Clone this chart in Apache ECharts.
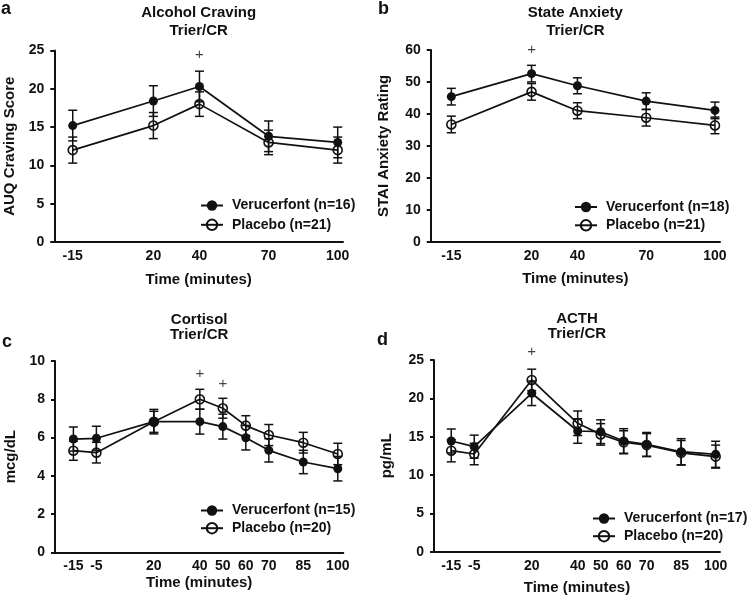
<!DOCTYPE html>
<html><head><meta charset="utf-8">
<script src="https://cdn.jsdelivr.net/npm/echarts@6/dist/echarts.min.js"></script>
<style>html,body{margin:0;padding:0;background:#fff}#c{width:748px;height:599px}</style>
</head><body><div id="c"></div>
<script>
// ---------------- data ----------------
const timesAB = [-15, 20, 40, 70, 100];
const timesCD = [-15, -5, 20, 40, 50, 60, 70, 85, 100];

const cravingVer    = [15.2, 18.4, 20.3, 13.8, 13.0];
const cravingVerSem = [2.0, 2.0, 2.0, 2.0, 2.0];
const cravingPla    = [12.0, 15.2, 18.0, 13.0, 12.0];
const cravingPlaSem = [1.7, 1.7, 1.6, 1.6, 1.7];
const cravingSig    = [[40, 24.4]];

const anxietyVer    = [45.4, 52.6, 48.8, 44.0, 41.1];
const anxietyVerSem = [2.6, 2.6, 2.5, 2.6, 2.6];
const anxietyPla    = [36.7, 46.9, 41.0, 38.8, 36.4];
const anxietyPlaSem = [2.6, 2.6, 2.5, 2.6, 2.6];
const anxietySig    = [[20, 60.2]];

const cortisolVer    = [5.92, 5.96, 6.83, 6.83, 6.57, 5.99, 5.33, 4.72, 4.37];
const cortisolVerSem = [0.63, 0.63, 0.64, 0.65, 0.65, 0.64, 0.61, 0.61, 0.64];
const cortisolPla    = [5.31, 5.21, 6.82, 8.0, 7.53, 6.62, 6.13, 5.73, 5.14];
const cortisolPlaSem = [0.5, 0.54, 0.55, 0.52, 0.52, 0.52, 0.55, 0.54, 0.56];
const cortisolSig    = [[40, 9.32], [50, 8.78]];

const acthVer    = [14.44, 13.7, 20.66, 15.74, 15.65, 14.44, 14.0, 13.04, 12.7];
const acthVerSem = [1.56, 1.5, 1.6, 1.6, 1.55, 1.6, 1.55, 1.7, 1.7];
const acthPla    = [13.17, 12.74, 22.4, 16.75, 15.3, 14.27, 13.9, 12.9, 12.4];
const acthPlaSem = [1.45, 1.4, 1.4, 1.6, 1.4, 1.5, 1.5, 1.6, 1.5];
const acthSig    = [[20, 26.1]];

// ---------------- styling / layout ----------------
const FONT = "'Liberation Sans', Arial, Helvetica, sans-serif";
const INK = '#111';

const panels = [
  { letter: 'a', title: 'Alcohol Craving\nTrier/CR', yName: 'AUQ Craving Score',
    times: timesAB, ver: cravingVer, verSem: cravingVerSem, pla: cravingPla, plaSem: cravingPlaSem, sig: cravingSig,
    verName: 'Verucerfont (n=16)', plaName: 'Placebo (n=21)',
    grid: { left: 54.3, top: 50.5, width: 288.7, height: 191.5 }, xMin: -23, xMax: 102.3, yMax: 25, yStep: 5,
    letterPos: [1, 0], titleTop: 3.5, titleLH: 18.5, yGap: 37, xGap: 30, legend: [200, 198.5, 5.3] },
  { letter: 'b', title: 'State Anxiety\nTrier/CR', yName: 'STAI Anxiety Rating',
    times: timesAB, ver: anxietyVer, verSem: anxietyVerSem, pla: anxietyPla, plaSem: anxietyPlaSem, sig: anxietySig,
    verName: 'Verucerfont (n=18)', plaName: 'Placebo (n=21)',
    grid: { left: 430.7, top: 50, width: 289.3, height: 191.7 }, xMin: -24, xMax: 102.2, yMax: 60, yStep: 10,
    letterPos: [378, 0], titleTop: 3.5, titleLH: 18.5, yGap: 39, xGap: 30, legend: [574, 200, 4.3] },
  { letter: 'c', title: 'Cortisol\nTrier/CR', yName: 'mcg/dL',
    times: timesCD, ver: cortisolVer, verSem: cortisolVerSem, pla: cortisolPla, plaSem: cortisolPlaSem, sig: cortisolSig,
    verName: 'Verucerfont (n=15)', plaName: 'Placebo (n=20)',
    grid: { left: 55, top: 361, width: 288.3, height: 191.3 }, xMin: -23, xMax: 102.4, yMax: 10, yStep: 2,
    letterPos: [2, 333], titleTop: 312.7, titleLH: 14.5, yGap: 37, xGap: 23, legend: [200, 503.5, 3.7] },
  { letter: 'd', title: 'ACTH\nTrier/CR', yName: 'pg/mL',
    times: timesCD, ver: acthVer, verSem: acthVerSem, pla: acthPla, plaSem: acthPlaSem, sig: acthSig,
    verName: 'Verucerfont (n=17)', plaName: 'Placebo (n=20)',
    grid: { left: 434, top: 360, width: 286, height: 191.7 }, xMin: -22.5, xMax: 101.9, yMax: 25, yStep: 5,
    letterPos: [377, 331], titleTop: 311.5, titleLH: 15, yGap: 39.5, xGap: 29, legend: [592, 511.5, 3.7] }
];

function errRender(params, api) {
  const x = api.value(0), y = api.value(1), e = api.value(2);
  const top = api.coord([x, y + e]);
  const bot = api.coord([x, y - e]);
  const w = 4.5;
  const st = { stroke: INK, lineWidth: 1.5 };
  return {
    type: 'group',
    children: [
      { type: 'line', shape: { x1: top[0], y1: top[1], x2: bot[0], y2: bot[1] }, style: st },
      { type: 'line', shape: { x1: top[0] - w, y1: top[1], x2: top[0] + w, y2: top[1] }, style: st },
      { type: 'line', shape: { x1: bot[0] - w, y1: bot[1], x2: bot[0] + w, y2: bot[1] }, style: st }
    ]
  };
}

const option = {
  backgroundColor: '#fff',
  animation: false,
  textStyle: { fontFamily: FONT, color: INK },
  title: [], legend: [], grid: [], xAxis: [], yAxis: [], series: []
};

panels.forEach((p, i) => {
  const cx = p.grid.left + p.grid.width / 2;
  option.title.push({
    text: p.title, left: cx, top: p.titleTop, textAlign: 'center', padding: 0,
    textStyle: { fontFamily: FONT, fontSize: 15, fontWeight: 'bold', color: INK, lineHeight: p.titleLH }
  });
  option.title.push({
    text: p.letter, left: p.letterPos[0], top: p.letterPos[1], padding: 0,
    textStyle: { fontFamily: FONT, fontSize: 18, fontWeight: 'bold', color: INK }
  });
  option.grid.push(Object.assign({ containLabel: false }, p.grid));
  option.xAxis.push({
    type: 'value', gridIndex: i, min: p.xMin, max: p.xMax,
    name: 'Time (minutes)', nameLocation: 'middle', nameGap: p.xGap,
    nameTextStyle: { fontFamily: FONT, fontSize: 15, fontWeight: 'bold', color: INK },
    axisLine: { show: true, onZero: false, lineStyle: { color: INK, width: 2 } },
    axisTick: { show: false },
    splitLine: { show: false },
    axisLabel: { customValues: p.times, margin: 7, fontFamily: FONT, fontSize: 14, fontWeight: 'bold', color: INK }
  });
  option.yAxis.push({
    type: 'value', gridIndex: i, min: 0, max: p.yMax, interval: p.yStep,
    name: p.yName, nameLocation: 'middle', nameGap: p.yGap,
    nameTextStyle: { fontFamily: FONT, fontSize: 15, fontWeight: 'bold', color: INK },
    axisLine: { show: true, onZero: false, lineStyle: { color: INK, width: 2 } },
    axisTick: { show: true, length: 4, lineStyle: { color: INK, width: 2 } },
    splitLine: { show: false },
    axisLabel: { margin: 10, fontFamily: FONT, fontSize: 14, fontWeight: 'bold', color: INK }
  });
  const verData = p.times.map((t, k) => [t, p.ver[k]]);
  const plaData = p.times.map((t, k) => [t, p.pla[k]]);
  const verErr = p.times.map((t, k) => [t, p.ver[k], p.verSem[k]]);
  const plaErr = p.times.map((t, k) => [t, p.pla[k], p.plaSem[k]]);
  option.series.push({
    type: 'custom', name: 'err-ver-' + p.letter, xAxisIndex: i, yAxisIndex: i,
    renderItem: errRender, data: verErr, encode: { x: 0, y: 1 }, z: 2, silent: true
  });
  option.series.push({
    type: 'custom', name: 'err-pla-' + p.letter, xAxisIndex: i, yAxisIndex: i,
    renderItem: errRender, data: plaErr, encode: { x: 0, y: 1 }, z: 2, silent: true
  });
  option.series.push({
    type: 'line', name: p.verName, xAxisIndex: i, yAxisIndex: i, data: verData, z: 3,
    symbol: 'circle', symbolSize: 9, showAllSymbol: true,
    lineStyle: { color: INK, width: 1.7 },
    itemStyle: { color: INK, borderColor: INK, borderWidth: 0 },
    emphasis: { disabled: true }
  });
  option.series.push({
    type: 'line', name: p.plaName, xAxisIndex: i, yAxisIndex: i, data: plaData, z: 3,
    symbol: 'circle', symbolSize: 9, showAllSymbol: true,
    lineStyle: { color: INK, width: 1.7 },
    itemStyle: { color: 'rgba(255,255,255,0)', borderColor: INK, borderWidth: 1.6 },
    emphasis: { disabled: true }
  });
  option.series.push({
    type: 'scatter', name: 'sig-' + p.letter, xAxisIndex: i, yAxisIndex: i, data: p.sig,
    clip: false, symbol: 'circle', symbolSize: 2, silent: true, z: 4,
    itemStyle: { color: 'rgba(0,0,0,0)' },
    label: { show: true, position: 'inside', formatter: '+', fontFamily: FONT, fontSize: 15, fontWeight: 'normal', color: INK }
  });
  option.legend.push({
    data: [p.verName, p.plaName], orient: 'vertical',
    left: p.legend[0], top: p.legend[1], itemGap: p.legend[2], padding: 0,
    itemWidth: 22, itemHeight: 13, selectedMode: false,
    textStyle: { fontFamily: FONT, fontSize: 14, fontWeight: 'bold', color: INK, lineHeight: 14, padding: [0, 0, 0, 4] }
  });
});

const chart = echarts.init(document.getElementById('c'), null, { renderer: 'canvas' });
chart.setOption(option);
</script>
</body></html>
